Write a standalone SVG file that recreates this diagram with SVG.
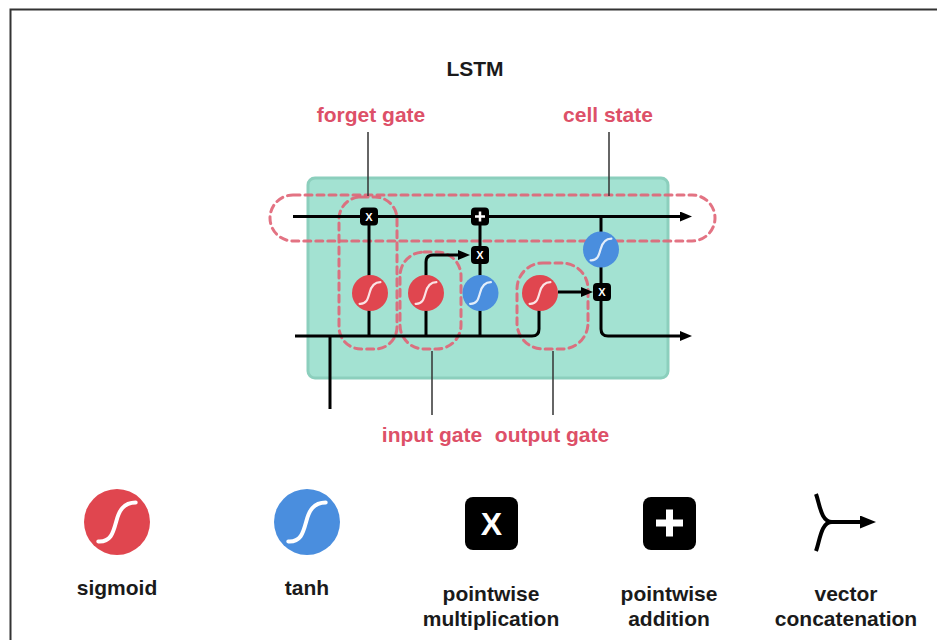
<svg xmlns="http://www.w3.org/2000/svg" width="937" height="640" viewBox="0 0 937 640">
  <defs>
    <style>
      .title { font-family: "Liberation Sans", Arial, sans-serif; font-weight: bold; font-size: 21px; fill: #1a1a1a; text-anchor: middle; }
      .lbl { font-family: "Liberation Sans", Arial, sans-serif; font-weight: bold; font-size: 21px; fill: #dd5068; text-anchor: middle; }
      .legend { font-family: "Liberation Sans", Arial, sans-serif; font-weight: bold; font-size: 21px; fill: #1a1a1a; text-anchor: middle; }
      .wire { fill: none; stroke: #000; stroke-width: 3; stroke-linejoin: round; }
      .pointer { fill: none; stroke: #333; stroke-width: 1.5; }
      .dash { fill: none; stroke: #e06476; stroke-width: 3; stroke-dasharray: 7 5; stroke-linecap: round; opacity: 0.9; }
      .sig { fill: #e0464f; }
      .tanh { fill: #4a8ede; }
      .curve { fill: none; stroke: #fff; stroke-width: 2.2; stroke-linecap: round; }
      .op { fill: #000; }
      .opx { font-family: "Liberation Sans", Arial, sans-serif; font-weight: bold; fill: #fff; text-anchor: middle; }
    </style>
    <marker id="arrow" viewBox="0 0 12 10" markerUnits="userSpaceOnUse" markerWidth="12" markerHeight="10" refX="2" refY="5" orient="auto">
      <path d="M0,0 L12,5 L0,10 z" fill="#000"/>
    </marker>
    <marker id="arrow-big" viewBox="0 0 16 13" markerUnits="userSpaceOnUse" markerWidth="16" markerHeight="13" refX="2" refY="6.5" orient="auto">
      <path d="M0,0 L16,6.5 L0,13 z" fill="#000"/>
    </marker>
    <!-- activation curve for a circle of radius 18 centred on the origin -->
    <path id="s-curve" class="curve" d="M-10.4,10.8 C-3.6,11.2 -2.2,6.3 -0.5,0 C1.1,-6.3 3.6,-10.8 10.4,-10.8"/>
  </defs>

  <!-- frame -->
  <path d="M10.5,640 V9.5 H937" fill="none" stroke="#333" stroke-width="2"/>

  <text class="title" x="475" y="76">LSTM</text>

  <!-- cell body -->
  <g id="cell">
    <rect x="308" y="178" width="360" height="200" rx="7" fill="#a3e2d2" stroke="#8ccfbd" stroke-width="3"/>
  </g>

  <!-- gate outlines -->
  <g id="outlines">
    <rect class="dash" x="270" y="195" width="445" height="46" rx="23"/>
    <rect class="dash" x="339" y="197" width="58" height="152" rx="22"/>
    <rect class="dash" x="400" y="252" width="61" height="97" rx="24"/>
    <rect class="dash" x="517" y="263" width="71" height="86" rx="26"/>
  </g>

  <!-- connectors -->
  <g id="connectors">
    <path class="wire" d="M293,216.5 H682" marker-end="url(#arrow)"/>
    <path class="wire" d="M295,336 H532 Q539,336 539,329 V293"/>
    <path class="wire" d="M330,336 V409"/>
    <path class="wire" d="M369,216.5 V336"/>
    <path class="wire" d="M426,336 V262 Q426,255 433,255 H460" marker-end="url(#arrow)"/>
    <path class="wire" d="M480,336 V216.5"/>
    <path class="wire" d="M558,292 H583" marker-end="url(#arrow)"/>
    <path class="wire" d="M601,216.5 V329 Q601,336 608,336 H682" marker-end="url(#arrow)"/>
  </g>

  <!-- annotation pointers -->
  <g id="pointers">
    <path class="pointer" d="M368,132 V196"/>
    <path class="pointer" d="M609,132 V196"/>
    <path class="pointer" d="M432,351 V415"/>
    <path class="pointer" d="M553,351 V415"/>
  </g>

  <!-- operation nodes -->
  <g id="forget-mul">
    <rect class="op" x="360" y="207.5" width="18" height="18" rx="4"/>
    <text class="opx" x="369" y="220.5" font-size="11">X</text>
  </g>
  <g id="cell-add">
    <rect class="op" x="471" y="207.5" width="18" height="18" rx="4"/>
    <path d="M480,211.5 V221.5 M475,216.5 H485" stroke="#fff" stroke-width="2.5"/>
  </g>
  <g id="input-mul">
    <rect class="op" x="471" y="246" width="18" height="18" rx="4"/>
    <text class="opx" x="480" y="259" font-size="11">X</text>
  </g>
  <g id="output-mul">
    <rect class="op" x="593" y="283" width="18" height="18" rx="4"/>
    <text class="opx" x="602" y="296" font-size="11">X</text>
  </g>

  <g id="forget-sigmoid">
    <circle class="sig" cx="370" cy="293" r="18"/>
    <use href="#s-curve" x="370" y="293" opacity="0.85"/>
  </g>
  <g id="input-sigmoid">
    <circle class="sig" cx="426" cy="293" r="18"/>
    <use href="#s-curve" x="426" y="293" opacity="0.85"/>
  </g>
  <g id="candidate-tanh">
    <circle class="tanh" cx="480.5" cy="293" r="18"/>
    <use href="#s-curve" x="480.5" y="293" opacity="0.85"/>
  </g>
  <g id="output-sigmoid">
    <circle class="sig" cx="540" cy="293" r="18"/>
    <use href="#s-curve" x="540" y="293" opacity="0.85"/>
  </g>
  <g id="cell-tanh">
    <circle class="tanh" cx="601" cy="249.5" r="18"/>
    <use href="#s-curve" x="601" y="249.5" opacity="0.85"/>
  </g>

  <!-- labels -->
  <g id="labels">
    <text class="lbl" x="371" y="122">forget gate</text>
    <text class="lbl" x="608" y="122">cell state</text>
    <text class="lbl" x="432" y="442">input gate</text>
    <text class="lbl" x="552" y="442">output gate</text>
  </g>

  <!-- legend -->
  <g id="legend-sigmoid">
    <circle class="sig" cx="117" cy="522" r="33"/>
    <use href="#s-curve" transform="translate(117,522) scale(1.8)"/>
    <text class="legend" x="117" y="595">sigmoid</text>
  </g>
  <g id="legend-tanh">
    <circle class="tanh" cx="307" cy="522" r="33"/>
    <use href="#s-curve" transform="translate(307,522) scale(1.8)"/>
    <text class="legend" x="307" y="595">tanh</text>
  </g>
  <g id="legend-mul">
    <rect class="op" x="465" y="497" width="53" height="53" rx="8"/>
    <text class="opx" x="491.5" y="535" font-size="32">X</text>
    <text class="legend" x="491" y="601">pointwise</text>
    <text class="legend" x="491" y="626">multiplication</text>
  </g>
  <g id="legend-add">
    <rect class="op" x="643" y="497" width="53" height="53" rx="8"/>
    <path d="M669.5,509.5 V536.5 M656,523 H683" stroke="#fff" stroke-width="7"/>
    <text class="legend" x="669" y="601">pointwise</text>
    <text class="legend" x="669" y="626">addition</text>
  </g>
  <g id="legend-concat">
    <path d="M816,494 C820,505 821,522 832,522 M816,551 C820,540 821,522 832,522 M826,522 H862" fill="none" stroke="#000" stroke-width="4" stroke-linejoin="round" marker-end="url(#arrow-big)"/>
    <text class="legend" x="846" y="601">vector</text>
    <text class="legend" x="846" y="626">concatenation</text>
  </g>
</svg>
